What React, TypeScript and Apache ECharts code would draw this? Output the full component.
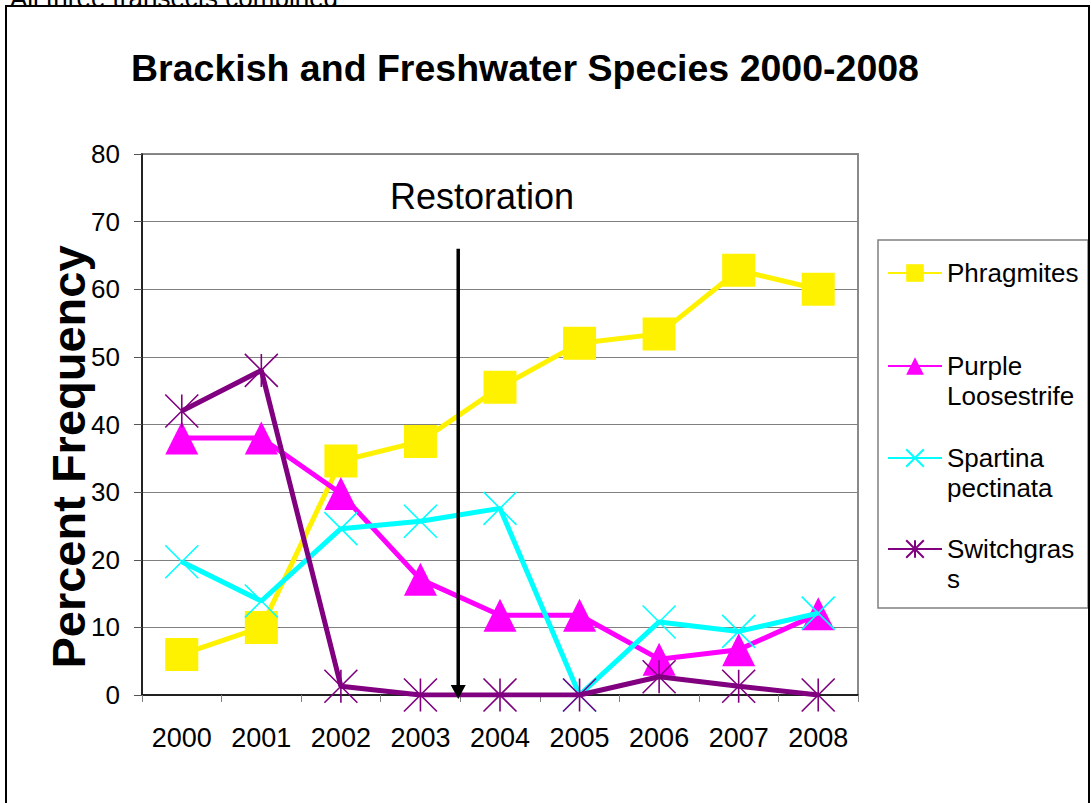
import React, { useEffect, useRef } from "react";
import * as echarts from "echarts";

const years = ["2000", "2001", "2002", "2003", "2004", "2005", "2006", "2007", "2008"];
const phragmites = [6, 10, 34.6, 37.5, 45.5, 52, 53.4, 62.8, 60];
const purpleLoosestrife = [38, 38, 29.8, 17.1, 11.8, 11.8, 5.3, 6.7, 12];
const spartinaPectinata = [19.7, 13.9, 24.6, 25.7, 27.6, 0, 10.8, 9.4, 12.1];
const switchgrass = [42, 48, 1.3, 0, 0, 0, 2.7, 1.3, 0];
const seriesNames = ["Phragmites", "Purple Loosestrife", "Spartina pectinata", "Switchgrass"];
const legendLabels = ["Phragmites", "\nPurple\nLoosestrife", "\nSpartina\npectinata", "\nSwitchgras\ns"];
const yMin = 0;
const yMax = 80;
const yInterval = 10;
const restorationBetween = ["2003", "2004"];
const arrowTopValue = 66;
const arrowBottomValue = 0;

const FONT = "'Liberation Sans', Arial, Helvetica, sans-serif";
const colors = ["#FFF200", "#FF00FF", "#00FFFF", "#800080"];
const symbols = [
  "rect",
  "triangle",
  "path://M0,0L10,10M10,0L0,10",
  "path://M0,0L10,10M10,0L0,10M5,0L5,10",
];
const legendTops = [258, 321, 413, 504];

export default function App() {
  const ref = useRef<HTMLDivElement>(null);
  useEffect(() => {
    document.body.style.margin = "0";
    if (!ref.current) return;
    const chart = echarts.init(ref.current, undefined, { renderer: "svg" });
    const dataSets = [phragmites, purpleLoosestrife, spartinaPectinata, switchgrass];
    const series = dataSets.map((d, i) => ({
      name: seriesNames[i],
      type: "line",
      data: d,
      symbol: symbols[i],
      symbolSize: 33,
      showAllSymbol: true,
      lineStyle: { width: 5, color: colors[i] },
      itemStyle: {
        color: colors[i],
        borderColor: colors[i],
        borderWidth: i >= 2 ? 1.6 : 0,
      },
      emphasis: { disabled: true },
      z: 2 + i,
    }));
    const legends = seriesNames.map((n, i) => ({
      show: true,
      orient: "vertical",
      left: 887,
      top: legendTops[i],
      padding: 0,
      itemWidth: 54,
      itemHeight: 22,
      itemGap: 0,
      selectedMode: false,
      data: [n],
      formatter: () => legendLabels[i],
      textStyle: {
        fontSize: 26,
        lineHeight: 30,
        color: "#000",
        fontFamily: FONT,
      },
    }));
    const option: any = {
      animation: false,
      backgroundColor: "#fff",
      grid: {
        left: 142,
        top: 154,
        width: 716,
        height: 541,
        show: true,
        borderColor: "#8a8a8a",
        borderWidth: 2,
        backgroundColor: "transparent",
      },
      legend: legends,
      xAxis: {
        type: "category",
        data: years,
        boundaryGap: true,
        axisLine: { show: true, lineStyle: { color: "#000", width: 1.5 } },
        axisTick: { show: true, length: 7, lineStyle: { color: "#808080", width: 1 } },
        axisLabel: { fontSize: 27, color: "#000", fontFamily: FONT, margin: 29 },
        splitLine: { show: false },
      },
      yAxis: {
        type: "value",
        min: yMin,
        max: yMax,
        interval: yInterval,
        axisLine: { show: true, lineStyle: { color: "#000", width: 1.5 } },
        axisTick: { show: true, length: 8, lineStyle: { color: "#555", width: 1 } },
        axisLabel: { fontSize: 26, color: "#000", fontFamily: FONT, margin: 22 },
        splitLine: { show: true, lineStyle: { color: "#808080", width: 1 } },
      },
      series,
    };
    chart.setOption(option);

    const xa = chart.convertToPixel({ xAxisIndex: 0 }, restorationBetween[0]) as number;
    const xb = chart.convertToPixel({ xAxisIndex: 0 }, restorationBetween[1]) as number;
    const ax = (xa + xb) / 2 - 2;
    const yTop = chart.convertToPixel({ yAxisIndex: 0 }, arrowTopValue) as number;
    const yBot = chart.convertToPixel({ yAxisIndex: 0 }, arrowBottomValue) as number;

    chart.setOption({
      graphic: [
        {
          type: "text",
          x: 10,
          y: 11,
          z: 1,
          style: {
            text: "All three transects combined",
            fontSize: 26,
            fontFamily: FONT,
            fill: "#000",
            textAlign: "left",
            textVerticalAlign: "bottom",
          },
        },
        {
          type: "rect",
          z: 5,
          shape: { x: 6, y: 6, width: 1083, height: 830 },
          style: { fill: "none", stroke: "#000", lineWidth: 2 },
        },
        {
          type: "text",
          x: 525,
          y: 68,
          style: {
            text: "Brackish and Freshwater Species 2000-2008",
            fontSize: 37.5,
            fontWeight: "bold",
            fontFamily: FONT,
            fill: "#000",
            textAlign: "center",
            textVerticalAlign: "middle",
          },
        },
        {
          type: "text",
          x: 68,
          y: 457,
          rotation: Math.PI / 2,
          style: {
            text: "Percent Frequency",
            fontSize: 47,
            fontWeight: "bold",
            fontFamily: FONT,
            fill: "#000",
            textAlign: "center",
            textVerticalAlign: "middle",
          },
        },
        {
          type: "text",
          x: 482,
          y: 196,
          style: {
            text: "Restoration",
            fontSize: 36,
            fontFamily: FONT,
            fill: "#000",
            textAlign: "center",
            textVerticalAlign: "middle",
          },
        },
        {
          type: "line",
          z: 10,
          shape: { x1: ax, y1: yTop, x2: ax, y2: yBot - 8 },
          style: { stroke: "#000", lineWidth: 3.5 },
        },
        {
          type: "polygon",
          z: 10,
          shape: {
            points: [
              [ax - 7.5, yBot - 10],
              [ax + 7.5, yBot - 10],
              [ax, yBot + 4],
            ],
          },
          style: { fill: "#000" },
        },
        {
          type: "rect",
          z: 1,
          shape: { x: 878, y: 240, width: 210, height: 368 },
          style: { fill: "none", stroke: "#808080", lineWidth: 1.5 },
        },
      ],
    });

    return () => chart.dispose();
  }, []);
  return <div ref={ref} style={{ width: 1091, height: 803 }} />;
}
